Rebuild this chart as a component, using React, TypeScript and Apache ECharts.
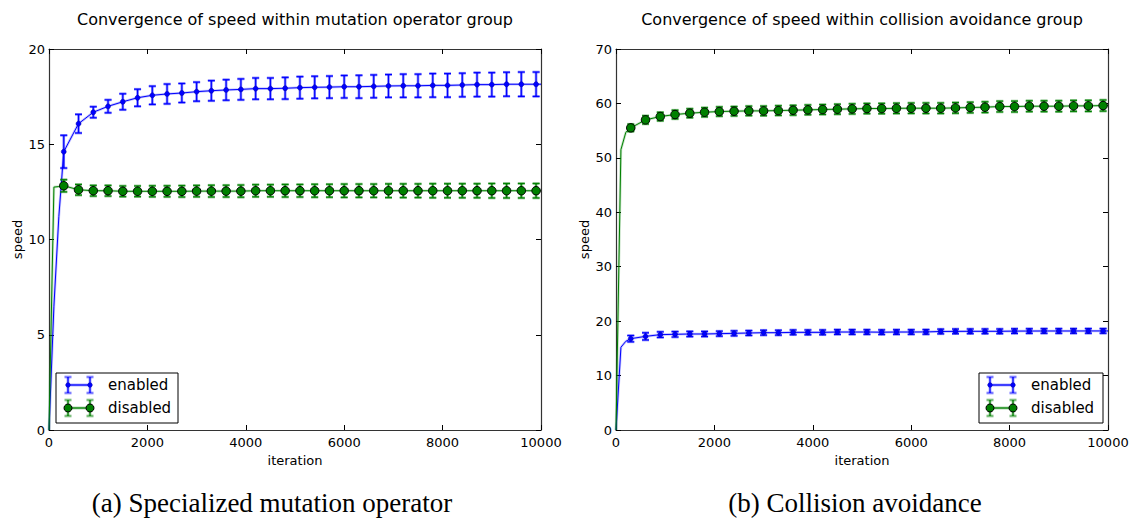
import React, { useEffect, useRef } from "react";
import * as echarts from "echarts";

// Iterations at which the mean speed and its spread were sampled (error bars).
const ITERATIONS = [
  300, 600, 900, 1200, 1500, 1800, 2100, 2400, 2700, 3000, 3300, 3600, 3900, 4200, 4500, 4800, 5100,
  5400, 5700, 6000, 6300, 6600, 6900, 7200, 7500, 7800, 8100, 8400, 8700, 9000, 9300, 9600, 9900,
];

// (a) Specialized mutation operator
const MUT_ENABLED_MEAN = [
  14.61, 16.08, 16.68, 16.99, 17.23, 17.44, 17.57, 17.64, 17.69, 17.76, 17.81, 17.85, 17.88, 17.92,
  17.92, 17.94, 17.97, 17.99, 18.0, 18.02, 18.02, 18.04, 18.06, 18.07, 18.07, 18.09, 18.09, 18.11,
  18.13, 18.13, 18.15, 18.15, 18.15,
];
const MUT_ENABLED_ERR = [
  0.86, 0.49, 0.29, 0.34, 0.42, 0.45, 0.48, 0.52, 0.5, 0.5, 0.53, 0.54, 0.55, 0.56, 0.56, 0.57, 0.58,
  0.58, 0.58, 0.59, 0.6, 0.6, 0.6, 0.61, 0.61, 0.62, 0.62, 0.62, 0.63, 0.63, 0.63, 0.64, 0.64,
];
const MUT_DISABLED_MEAN = [
  12.82, 12.61, 12.56, 12.56, 12.53, 12.53, 12.53, 12.53, 12.53, 12.54, 12.54, 12.54, 12.54, 12.56,
  12.56, 12.56, 12.56, 12.56, 12.56, 12.56, 12.56, 12.56, 12.56, 12.56, 12.56, 12.56, 12.56, 12.56,
  12.56, 12.56, 12.56, 12.56, 12.56,
];
const MUT_DISABLED_ERR = [
  0.32, 0.28, 0.28, 0.28, 0.28, 0.28, 0.29, 0.29, 0.3, 0.3, 0.31, 0.31, 0.32, 0.32, 0.32, 0.33, 0.33,
  0.34, 0.34, 0.35, 0.35, 0.35, 0.36, 0.36, 0.36, 0.37, 0.37, 0.37, 0.37, 0.38, 0.38, 0.38, 0.38,
];
// samples before the first error bar, and at the end of the run
const MUT_ENABLED_HEAD = [[0, 0], [100, 6.5], [200, 11.2]];
const MUT_ENABLED_TAIL = [[10000, 18.15]];
const MUT_DISABLED_HEAD = [[0, 0], [100, 12.75], [200, 12.78]];
const MUT_DISABLED_TAIL = [[10000, 12.56]];

// (b) Collision avoidance
const COL_ENABLED_MEAN = [
  16.78, 17.2, 17.52, 17.58, 17.64, 17.64, 17.7, 17.76, 17.82, 17.88, 17.88, 17.94, 17.94, 17.94, 18.0,
  18.0, 18.0, 17.97, 18.0, 18.0, 18.02, 18.1, 18.12, 18.13, 18.13, 18.13, 18.17, 18.18, 18.19, 18.19,
  18.19, 18.2, 18.2,
];
const COL_ENABLED_ERR = [
  0.58, 0.66, 0.52, 0.5, 0.48, 0.47, 0.46, 0.46, 0.45, 0.45, 0.45, 0.44, 0.44, 0.44, 0.44, 0.44, 0.43,
  0.43, 0.43, 0.43, 0.43, 0.43, 0.43, 0.43, 0.43, 0.43, 0.43, 0.43, 0.43, 0.43, 0.43, 0.43, 0.43,
];
const COL_DISABLED_MEAN = [
  55.51, 56.98, 57.59, 57.96, 58.2, 58.38, 58.51, 58.57, 58.63, 58.63, 58.69, 58.75, 58.82, 58.88,
  58.94, 59.0, 59.06, 59.06, 59.1, 59.12, 59.12, 59.12, 59.18, 59.25, 59.31, 59.43, 59.43, 59.49,
  59.49, 59.49, 59.55, 59.55, 59.61,
];
const COL_DISABLED_ERR = [
  0.67, 0.75, 0.78, 0.8, 0.82, 0.84, 0.85, 0.86, 0.87, 0.88, 0.89, 0.9, 0.9, 0.91, 0.92, 0.93, 0.94,
  0.95, 0.95, 0.96, 0.97, 0.97, 0.98, 0.98, 0.99, 0.99, 1.0, 1.0, 1.0, 1.01, 1.01, 1.02, 1.02,
];
const COL_ENABLED_HEAD = [[0, 0], [100, 15.2], [200, 16.3]];
const COL_ENABLED_TAIL = [[10000, 18.2]];
const COL_DISABLED_HEAD = [[0, 0], [100, 51.5], [200, 54.7]];
const COL_DISABLED_TAIL = [[10000, 59.61]];

const TITLES = [
  "Convergence of speed within mutation operator group",
  "Convergence of speed within collision avoidance group",
];
const CAPTIONS = ["(a) Specialized mutation operator", "(b) Collision avoidance"];
const LEGEND_LABELS = ["enabled", "disabled"];
const Y_MAX = [20, 70];
const Y_STEP = [5, 10];

const BLUE = "#0000ff";
const GREEN = "#008000";
const SANS = "DejaVu Sans";
const SERIF = "Liberation Serif";

const GRIDS = [
  { left: 49, top: 49, width: 492, height: 381 },
  { left: 616, top: 49, width: 492, height: 381 },
];

const frameLine = { show: true, onZero: false, lineStyle: { color: "#333", width: 1.2 } };
const innerTick = { show: true, inside: true, length: 5, lineStyle: { color: "#000", width: 1 } };
const tickFont = { color: "#000", fontFamily: SANS, fontSize: 13 };
const plain = (v: number) => String(v);

function xAxis(gridIndex: number, position: "bottom" | "top") {
  const main = position === "bottom";
  return {
    type: "value",
    gridIndex,
    position,
    min: 0,
    max: 10000,
    interval: 2000,
    axisLine: frameLine,
    axisTick: innerTick,
    axisLabel: { show: main, margin: 6, showMinLabel: true, showMaxLabel: true, formatter: plain, ...tickFont },
    splitLine: { show: false },
    name: main ? "iteration" : "",
    nameLocation: "middle",
    nameGap: 22,
    nameTextStyle: { color: "#000", fontFamily: SANS, fontSize: 13 },
  };
}

function yAxis(gridIndex: number, position: "left" | "right") {
  const main = position === "left";
  return {
    type: "value",
    gridIndex,
    position,
    min: 0,
    max: Y_MAX[gridIndex],
    interval: Y_STEP[gridIndex],
    axisLine: frameLine,
    axisTick: innerTick,
    axisLabel: { show: main, margin: 4, showMinLabel: true, showMaxLabel: true, formatter: plain, ...tickFont },
    splitLine: { show: false },
    name: main ? "speed" : "",
    nameLocation: "middle",
    nameGap: 25,
    nameTextStyle: { color: "#000", fontFamily: SANS, fontSize: 13 },
  };
}

function errorBarRenderer(color: string, light: string) {
  return (_params: any, api: any) => {
    const x = api.value(0);
    const lo = api.coord([x, api.value(1)]);
    const hi = api.coord([x, api.value(2)]);
    const hw = 3.5;
    const bar = (stroke: string, lineWidth: number) => [
      { type: "line", shape: { x1: lo[0], y1: lo[1], x2: hi[0], y2: hi[1] }, style: { stroke, lineWidth } },
      { type: "line", shape: { x1: hi[0] - hw, y1: hi[1], x2: hi[0] + hw, y2: hi[1] }, style: { stroke, lineWidth } },
      { type: "line", shape: { x1: lo[0] - hw, y1: lo[1], x2: lo[0] + hw, y2: lo[1] }, style: { stroke, lineWidth } },
    ];
    return { type: "group", children: [...bar(light, 2.6), ...bar(color, 1.1)] };
  };
}

function groupSeries(
  axis: number,
  mean: number[],
  err: number[],
  head: number[][],
  tail: number[][],
  color: string,
  light: string,
  marker: { size: number; border: string; borderWidth: number },
  z: number
) {
  const points = ITERATIONS.map((x, i) => [x, mean[i]]);
  const curve = [...head, ...points, ...tail];
  const common = { xAxisIndex: axis * 2, yAxisIndex: axis * 2, animation: false, silent: true };
  return [
    {
      ...common,
      type: "line",
      data: curve,
      symbol: "none",
      lineStyle: { color: light, width: 2.6, opacity: 0.45 },
      z,
    },
    {
      ...common,
      type: "line",
      data: curve,
      symbol: "none",
      lineStyle: { color, width: 1 },
      z: z + 1,
    },
    {
      ...common,
      type: "custom",
      data: ITERATIONS.map((x, i) => [x, mean[i] - err[i], mean[i] + err[i]]),
      encode: { x: 0, y: [1, 2] },
      renderItem: errorBarRenderer(color, light),
      z: z + 2,
    },
    {
      ...common,
      type: "scatter",
      data: points,
      symbol: "circle",
      symbolSize: marker.size,
      itemStyle: { color, borderColor: marker.border, borderWidth: marker.borderWidth, opacity: 1 },
      z: z + 3,
    },
  ];
}

const BLUE_LIGHT = "rgba(0,0,255,0.5)";
const GREEN_LIGHT = "rgba(0,128,0,0.5)";
const BLUE_MARK = { size: 5, border: "#0000a0", borderWidth: 0.5 };
const GREEN_MARK = { size: 8.5, border: "#000", borderWidth: 1 };

function legendGraphic(box: { x: number; y: number; w: number; h: number }, capL: number, capR: number, textX: number) {
  const rows = [
    { y: box.y + 12, color: BLUE, light: BLUE_LIGHT, r: 2.3, border: "#0000a0", bw: 0.5 },
    { y: box.y + 35, color: GREEN, light: GREEN_LIGHT, r: 4, border: "#000", bw: 1 },
  ];
  const children: any[] = [
    { type: "rect", shape: { x: box.x, y: box.y, width: box.w, height: box.h }, style: { fill: "#fff", stroke: "#000", lineWidth: 1 } },
  ];
  rows.forEach((row, k) => {
    const cap = 8;
    children.push({ type: "line", shape: { x1: capL, y1: row.y, x2: capR, y2: row.y }, style: { stroke: row.light, lineWidth: 2.6 } });
    children.push({ type: "line", shape: { x1: capL, y1: row.y, x2: capR, y2: row.y }, style: { stroke: row.color, lineWidth: 1 } });
    [capL, capR].forEach((cx) => {
      children.push({ type: "line", shape: { x1: cx, y1: row.y - cap, x2: cx, y2: row.y + cap }, style: { stroke: row.light, lineWidth: 2.6 } });
      children.push({ type: "line", shape: { x1: cx - 3.5, y1: row.y - cap, x2: cx + 3.5, y2: row.y - cap }, style: { stroke: row.light, lineWidth: 2.6 } });
      children.push({ type: "line", shape: { x1: cx - 3.5, y1: row.y + cap, x2: cx + 3.5, y2: row.y + cap }, style: { stroke: row.light, lineWidth: 2.6 } });
      children.push({ type: "line", shape: { x1: cx, y1: row.y - cap, x2: cx, y2: row.y + cap }, style: { stroke: row.color, lineWidth: 1 } });
      children.push({ type: "circle", shape: { cx, cy: row.y, r: row.r }, style: { fill: row.color, stroke: row.border, lineWidth: row.bw } });
    });
    children.push({
      type: "text",
      x: textX,
      y: row.y,
      style: { text: LEGEND_LABELS[k], fill: "#000", font: `15px '${SANS}'`, textAlign: "left", textVerticalAlign: "middle" },
    });
  });
  return { type: "group", z: 100, children };
}

export default function App() {
  const ref = useRef<HTMLDivElement>(null);

  useEffect(() => {
    if (!ref.current) return;
    const chart = echarts.init(ref.current, undefined, { renderer: "svg" });

    const titleGraphics = GRIDS.map((g, i) => ({
      type: "text",
      x: g.left + g.width / 2,
      y: 19,
      style: { text: TITLES[i], fill: "#000", font: `16px '${SANS}'`, textAlign: "center", textVerticalAlign: "middle" },
    }));
    const captionGraphics = [272, 855].map((cx, i) => ({
      type: "text",
      x: cx,
      y: 503,
      style: { text: CAPTIONS[i], fill: "#000", font: `27px '${SERIF}'`, textAlign: "center", textVerticalAlign: "middle" },
    }));

    chart.setOption({
      animation: false,
      backgroundColor: "#fff",
      grid: GRIDS,
      xAxis: [xAxis(0, "bottom"), xAxis(0, "top"), xAxis(1, "bottom"), xAxis(1, "top")],
      yAxis: [yAxis(0, "left"), yAxis(0, "right"), yAxis(1, "left"), yAxis(1, "right")],
      series: [
        ...groupSeries(0, MUT_ENABLED_MEAN, MUT_ENABLED_ERR, MUT_ENABLED_HEAD, MUT_ENABLED_TAIL, BLUE, BLUE_LIGHT, BLUE_MARK, 2),
        ...groupSeries(0, MUT_DISABLED_MEAN, MUT_DISABLED_ERR, MUT_DISABLED_HEAD, MUT_DISABLED_TAIL, GREEN, GREEN_LIGHT, GREEN_MARK, 10),
        ...groupSeries(1, COL_ENABLED_MEAN, COL_ENABLED_ERR, COL_ENABLED_HEAD, COL_ENABLED_TAIL, BLUE, BLUE_LIGHT, BLUE_MARK, 2),
        ...groupSeries(1, COL_DISABLED_MEAN, COL_DISABLED_ERR, COL_DISABLED_HEAD, COL_DISABLED_TAIL, GREEN, GREEN_LIGHT, GREEN_MARK, 10),
      ],
      graphic: [
        ...titleGraphics,
        ...captionGraphics,
        legendGraphic({ x: 56, y: 373, w: 122, h: 50 }, 68, 90, 108),
        legendGraphic({ x: 979, y: 373, w: 124, h: 50 }, 990, 1013, 1031),
      ],
    });

    return () => chart.dispose();
  }, []);

  return (
    <div
      ref={ref}
      style={{ position: "fixed", left: 0, top: 0, width: 1136, height: 519, background: "#fff" }}
    />
  );
}
